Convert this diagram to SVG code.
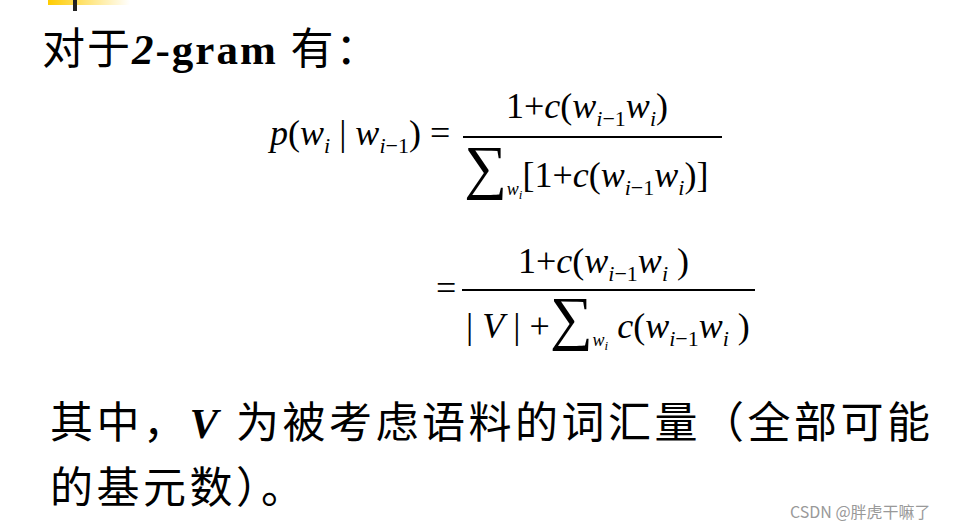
<svg xmlns="http://www.w3.org/2000/svg" width="976" height="530" viewBox="0 0 976 530">
<defs><linearGradient id="g" x1="0" x2="1"><stop offset="0" stop-color="#ffcc00"/><stop offset="1" stop-color="#ffcc00" stop-opacity="0"/></linearGradient>
<style>
.m{font-family:"Liberation Serif",serif;font-size:36px;fill:#000}
.i{font-style:italic}
.s{font-size:22px}
.c{font-family:"Liberation Serif","Noto Sans CJK SC",serif;font-size:43px;fill:#000}
</style></defs>
<rect width="976" height="530" fill="#fff"/>
<rect x="48" y="0" width="82" height="5" fill="url(#g)"/>
<rect x="73" y="0" width="4" height="11" fill="#222"/>
<text class="c" x="42" y="64" letter-spacing="2">对于<tspan font-weight="bold" font-style="italic">2</tspan><tspan font-weight="bold">-gram </tspan>有：</text>
<text class="m" x="270" y="145"><tspan class="i">p</tspan>(<tspan class="i">w</tspan><tspan class="i s" dy="8">i</tspan><tspan dy="-8"> | </tspan><tspan class="i">w</tspan><tspan class="s" dy="8"><tspan class="i">i</tspan>−1</tspan><tspan dy="-8">) =</tspan></text>
<line x1="463" y1="137" x2="722" y2="137" stroke="#000" stroke-width="2"/>
<text class="m" x="506" y="118">1+<tspan class="i">c</tspan>(<tspan class="i">w</tspan><tspan class="s" dy="8"><tspan class="i">i</tspan>−1</tspan><tspan class="i" dy="-8">w</tspan><tspan class="i s" dy="8">i</tspan><tspan dy="-8">)</tspan></text>
<text class="m" x="464" y="187"><tspan font-size="60">∑</tspan><tspan class="i" font-size="18" dy="8">w</tspan><tspan class="i" font-size="13" dy="4">i</tspan><tspan dy="-12">[1+</tspan><tspan class="i">c</tspan>(<tspan class="i">w</tspan><tspan class="s" dy="8"><tspan class="i">i</tspan>−1</tspan><tspan class="i" dy="-8">w</tspan><tspan class="i s" dy="8">i</tspan><tspan dy="-8">)]</tspan></text>
<text class="m" x="436" y="300">=</text>
<line x1="462" y1="290" x2="755" y2="290" stroke="#000" stroke-width="2"/>
<text class="m" x="518" y="273">1+<tspan class="i">c</tspan>(<tspan class="i">w</tspan><tspan class="s" dy="8"><tspan class="i">i</tspan>−1</tspan><tspan class="i" dy="-8">w</tspan><tspan class="i s" dy="8">i</tspan><tspan dy="-8"> )</tspan></text>
<text class="m" x="466" y="338">| <tspan class="i">V</tspan> | +<tspan font-size="60">∑</tspan><tspan class="i" font-size="18" dy="8">w</tspan><tspan class="i" font-size="13" dy="4">i</tspan><tspan class="i" dy="-12"> c</tspan>(<tspan class="i">w</tspan><tspan class="s" dy="8"><tspan class="i">i</tspan>−1</tspan><tspan class="i" dy="-8">w</tspan><tspan class="i s" dy="8">i</tspan><tspan dy="-8"> )</tspan></text>
<text class="c" x="50" y="438" letter-spacing="3.5">其中，<tspan font-weight="bold" font-style="italic">V</tspan> 为被考虑语料的词汇量（全部可能</text>
<text class="c" x="50" y="503" letter-spacing="3.5">的基元数）。</text>
<text x="790" y="518" font-family="'Noto Sans CJK SC',sans-serif" font-size="16" fill="#999">CSDN @胖虎干嘛了</text>
</svg>
